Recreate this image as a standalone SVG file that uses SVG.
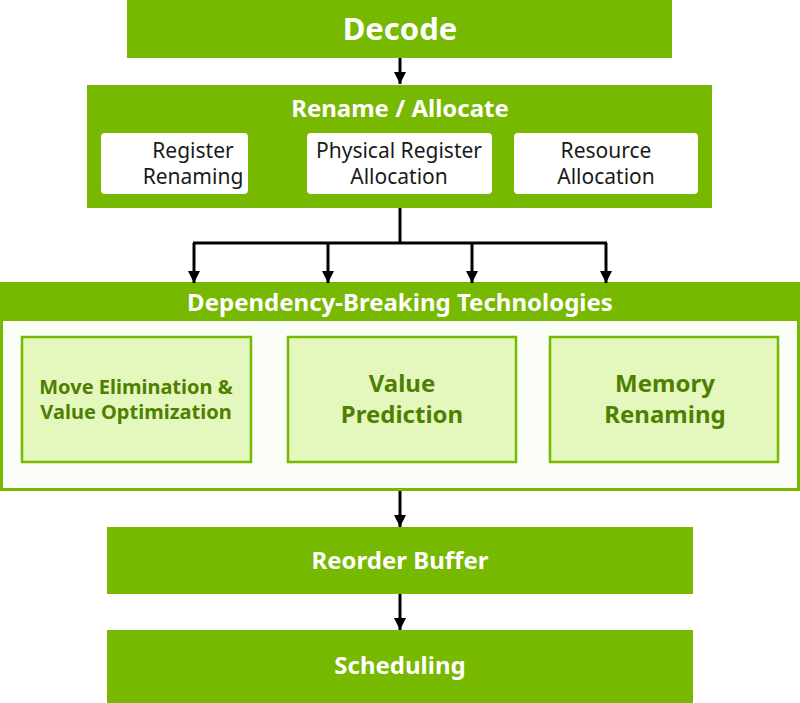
<svg xmlns="http://www.w3.org/2000/svg" width="800" height="703" viewBox="0 0 800 703">
<style>
.g{fill:#76b900}
.t{font-family:"Noto Sans","Open Sans",sans-serif;font-weight:700;fill:#fff;text-anchor:middle}
.w{fill:#fff}
.s{font-family:"Noto Sans","Open Sans",sans-serif;font-size:21px;fill:#1a1a1a;text-anchor:middle}
.in{fill:#e4f8bd;stroke:#76b900;stroke-width:2.5}
.it{font-family:"Noto Sans","Open Sans",sans-serif;font-weight:700;fill:#4f7f00;text-anchor:middle}
.c{stroke:#000;stroke-width:3;fill:none}
</style>
<defs>
<marker id="ah" viewBox="0 0 10 10" refX="10" refY="5" markerWidth="4" markerHeight="4" orient="auto" markerUnits="strokeWidth">
<path d="M0,0 L10,5 L0,10 z" fill="#000"/>
</marker>
</defs>
<g id="decode">
<rect class="g" x="127" y="0" width="545" height="58"/>
<text class="t" x="400" y="40" font-size="31">Decode</text>
</g>
<g id="rename">
<rect class="g" x="87" y="85" width="625" height="123"/>
<text class="t" x="400" y="117" font-size="24">Rename / Allocate</text>
<rect class="w" x="101" y="133" width="147" height="61" rx="4"/>
<text class="s" x="193" y="158">Register</text>
<text class="s" x="193" y="184">Renaming</text>
<rect class="w" x="307" y="133" width="185" height="61" rx="4"/>
<text class="s" x="399" y="158">Physical Register</text>
<text class="s" x="399" y="184">Allocation</text>
<rect class="w" x="514" y="133" width="184" height="61" rx="4"/>
<text class="s" x="606" y="158">Resource</text>
<text class="s" x="606" y="184">Allocation</text>
</g>
<g id="dependency">
<rect x="1.5" y="283.5" width="797" height="206" fill="#fbfdf7" stroke="#76b900" stroke-width="3"/>
<rect class="g" x="0" y="282" width="800" height="39"/>
<text class="t" x="400" y="311" font-size="24">Dependency-Breaking Technologies</text>
<rect class="in" x="22" y="337" width="229" height="125"/>
<text class="it" x="136" y="394" font-size="20">Move Elimination &amp;</text>
<text class="it" x="136" y="419" font-size="20">Value Optimization</text>
<rect class="in" x="288" y="337" width="228" height="125"/>
<text class="it" x="402" y="392" font-size="24">Value</text>
<text class="it" x="402" y="423" font-size="24">Prediction</text>
<rect class="in" x="550" y="337" width="228" height="125"/>
<text class="it" x="665" y="392" font-size="24">Memory</text>
<text class="it" x="665" y="423" font-size="24">Renaming</text>
</g>
<g id="rob">
<rect class="g" x="107" y="527" width="586" height="67"/>
<text class="t" x="400" y="569" font-size="24">Reorder Buffer</text>
</g>
<g id="scheduling">
<rect class="g" x="107" y="630" width="586" height="73"/>
<text class="t" x="400" y="674" font-size="24">Scheduling</text>
</g>
<g id="connectors">
<line class="c" x1="400" y1="58" x2="400" y2="84" marker-end="url(#ah)"/>
<polyline class="c" points="400,208 400,243"/>
<line class="c" x1="193" y1="243" x2="607" y2="243"/>
<line class="c" x1="194" y1="243" x2="194" y2="283" marker-end="url(#ah)"/>
<line class="c" x1="328" y1="243" x2="328" y2="283" marker-end="url(#ah)"/>
<line class="c" x1="472" y1="243" x2="472" y2="283" marker-end="url(#ah)"/>
<line class="c" x1="606" y1="243" x2="606" y2="283" marker-end="url(#ah)"/>
<line class="c" x1="400" y1="491" x2="400" y2="527" marker-end="url(#ah)"/>
<line class="c" x1="400" y1="594" x2="400" y2="630" marker-end="url(#ah)"/>
</g>
</svg>
